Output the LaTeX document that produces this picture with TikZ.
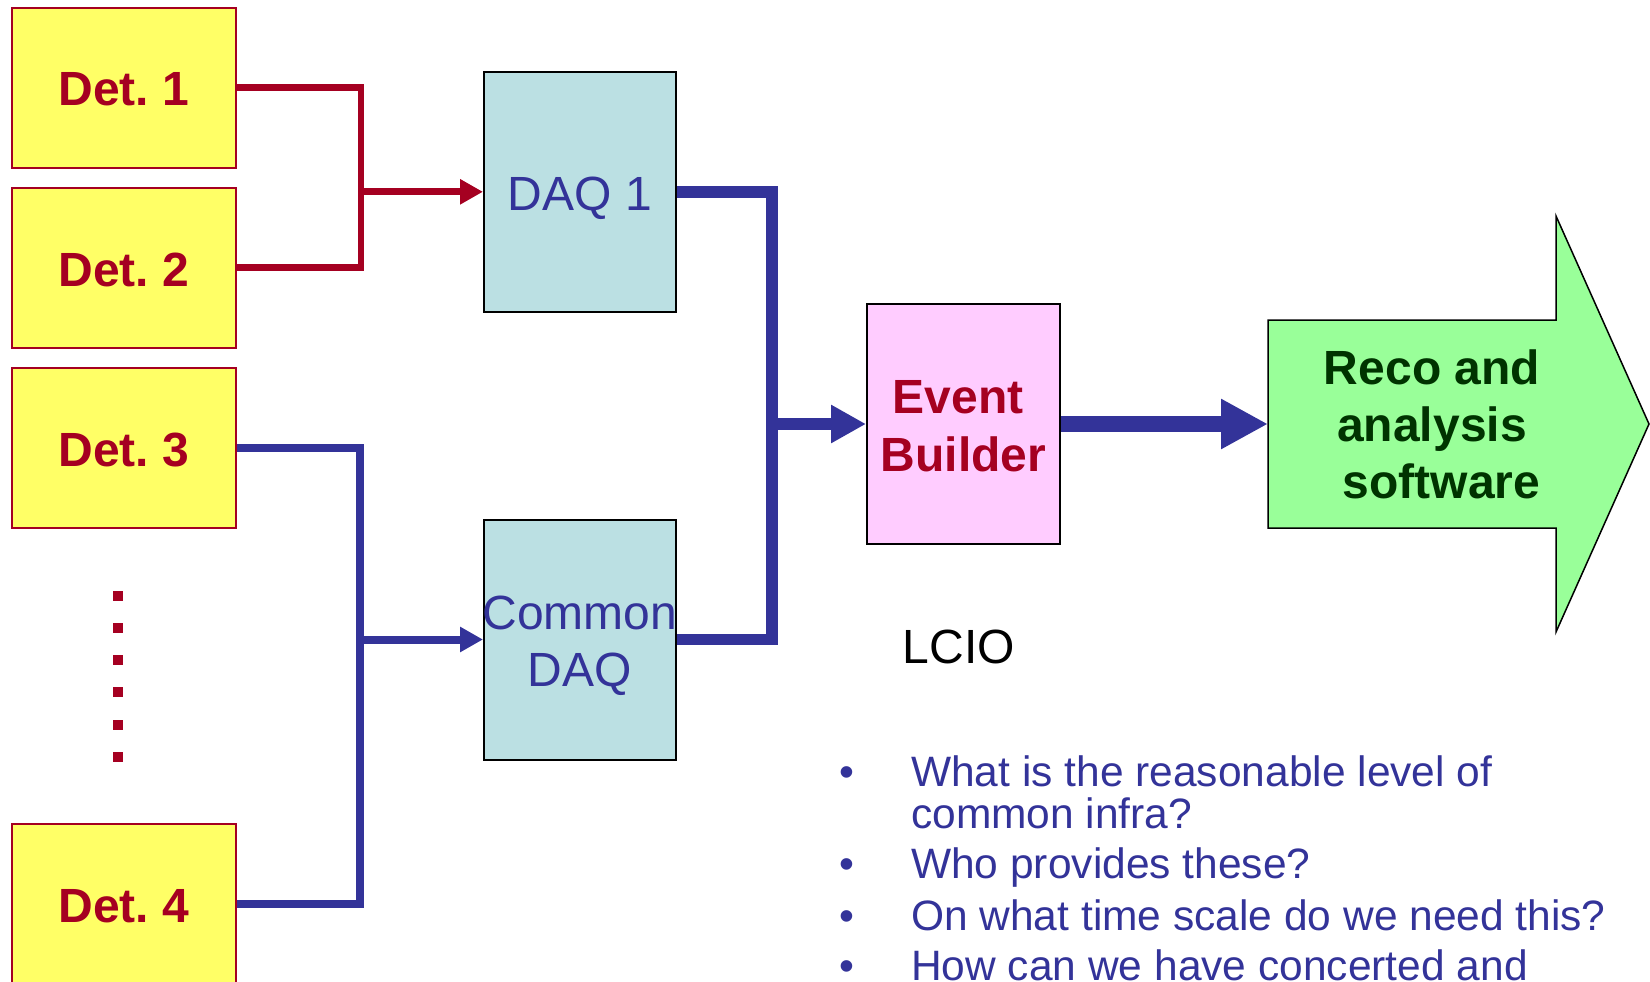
\documentclass[tikz,border=0pt]{standalone}
\usepackage{fontspec}
\setmainfont{Liberation Sans}
\usetikzlibrary{arrows.meta}

\definecolor{detred}{HTML}{A50021}
\definecolor{detyellow}{HTML}{FFFF66}
\definecolor{daqcyan}{HTML}{BBE0E3}
\definecolor{daqblue}{HTML}{333399}
\definecolor{ebpink}{HTML}{FFCCFF}
\definecolor{recogreen}{HTML}{99FF99}
\definecolor{recotextgreen}{HTML}{003300}

% two centred lines whose box has its baseline on the lower line
\newcommand{\twolines}[2]{\begin{tabular}[b]{@{}c@{}}#1\\#2\end{tabular}}

\begin{document}
\begin{tikzpicture}[x=1pt,y=-1pt,
  detbox/.style={draw=detred, line width=1.5pt, fill=detyellow,
    minimum width=224pt, minimum height=160pt, inner sep=0pt,
    text height=36.4pt, text depth=0pt,
    text=detred, font=\fontsize{48}{58}\selectfont\bfseries},
  daqbox/.style={draw=black, line width=2pt, fill=daqcyan,
    minimum width=192pt, minimum height=240pt, inner sep=0pt,
    text=daqblue, font=\fontsize{48}{57}\selectfont},
  ebbox/.style={draw=black, line width=2pt, fill=ebpink,
    minimum width=193pt, minimum height=240pt, inner sep=0pt,
    text=detred, font=\fontsize{48}{58}\selectfont\bfseries},
  recoshape/.style={draw=black, line width=1.5pt, fill=recogreen, line join=miter},
  recotext/.style={inner sep=0pt, text=recotextgreen, align=center,
    font=\fontsize{48}{57}\selectfont\bfseries},
  redwire/.style={draw=detred, line width=6.7pt},
  bluewire/.style={draw=daqblue, line width=8pt},
  busline/.style={draw=daqblue, line width=11.7pt},
  smallhead/.style={-{Triangle[length=23pt,width=24pt]}},
  plain/.style={inner sep=0pt, anchor=base west, font=\fontsize{48}{58}\selectfont},
  bulletmark/.style={inner sep=0pt, anchor=base, text=daqblue, font=\fontsize{42.5}{50}\selectfont},
  question/.style={inner sep=0pt, anchor=base west, text=daqblue, font=\fontsize{42.5}{50}\selectfont},
]
\useasboundingbox (0,0) rectangle (1650,982);

% detector boxes
\node[detbox] (d1) at (124,87.8) {Det.\ 1};
\node[detbox] (d2) at (124,267.8) {Det.\ 2};
\node[detbox] (d3) at (124,447.8) {Det.\ 3};
\node[detbox] (d4) at (124,904) {Det.\ 4};

% vertical ellipsis between Det. 3 and Det. 4
\foreach \k in {0,...,5}
  \fill[detred] (112.5,{591+32.15*\k}) rectangle ++(10,10);

% DAQ stages and event builder
\node[daqbox, text height=36.4pt, text depth=0pt] (daq1) at (580,191.8) {DAQ 1};
\node[daqbox, text height=94.2pt, text depth=0pt] (cdaq) at (580,639.5)
  {\twolines{\makebox[0pt]{Common}}{DAQ}};
\node[ebbox, text height=95.6pt, text depth=0pt] (eb) at (963.5,424)
  {\twolines{Event\hspace*{11pt}}{Builder}};

% reconstruction block arrow
\coordinate (recoL) at (1268,424);
\path[recoshape] (1268,320) -- (1556,320) -- (1556,216) -- (1649,424)
  -- (1556,632) -- (1556,528) -- (1268,528) -- cycle;
\node[recotext] (reco) at (1432,424) {Reco and\\analysis\\\hspace*{19pt}software};

% junction points of the merging lines
\coordinate (rj) at (361,191.8);
\coordinate (bj) at (360,639.5);
\coordinate (ej) at (772,424);

% Det. 1 and Det. 2 into DAQ 1
\draw[redwire] (d1.east) -| (rj) |- (d2.east);
\draw[redwire, smallhead] (rj) -- (daq1.west);

% Det. 3 and Det. 4 into the common DAQ
\draw[bluewire] (d3.east) -| (bj) |- (d4.east);
\draw[bluewire, smallhead] (bj) -- (cdaq.west);

% both DAQs into the event builder
\draw[busline] (daq1.east) -| (ej) |- (cdaq.east);
\draw[draw=daqblue, line width=12.7pt, -{Triangle[length=35pt,width=36pt]}] (ej) -- (eb.west);

% event builder to reconstruction
\draw[draw=daqblue, line width=16pt, -{Triangle[length=47pt,width=47pt]}] (eb.east) -- (recoL);

% data format label
\node[plain] (lcio) at (902.5,663.3) {LCIO};

% open questions
\node[bulletmark] (m1) at (846.7,786.7) {•};
\node[question] (q1) at (911,786.7) {What is the reasonable level of};
\node[question] (q1b) at (911,828) {common infra?};
\node[bulletmark] (m2) at (846.7,878) {•};
\node[question] (q2) at (911,878) {Who provides these?};
\node[bulletmark] (m3) at (846.7,930) {•};
\node[question] (q3) at (911,930) {On what time scale do we need this?};
\node[bulletmark] (m4) at (846.7,980.7) {•};
\node[question] (q4) at (911,980.7) {How can we have concerted and};
\end{tikzpicture}
\end{document}
